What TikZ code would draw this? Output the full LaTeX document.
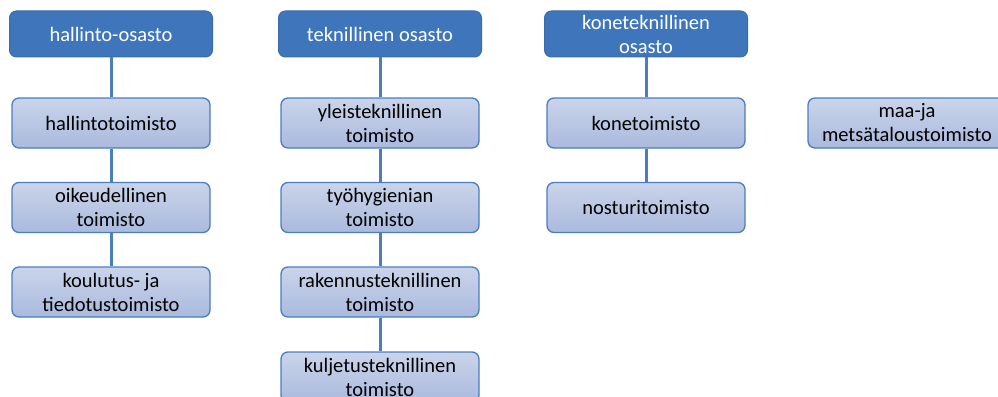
\documentclass[tikz,border=0pt]{standalone}
\usepackage{fontspec}
\setmainfont{Carlito}
\definecolor{deptfill}{HTML}{3F76BB}
\definecolor{deptline}{HTML}{3A6BAA}
\definecolor{officetop}{HTML}{CAD4EA}
\definecolor{officebot}{HTML}{AABADE}
\definecolor{linkblue}{HTML}{4A7EBE}
\begin{document}
\begin{tikzpicture}[x=1pt,y=-1pt,
  dept/.style={draw=deptline,line width=1pt,fill=deptfill,rounded corners=7pt,
    minimum width=203pt,minimum height=46pt,inner sep=0pt,text=white,align=center,
    font=\fontsize{20.5}{24}\selectfont},
  office/.style={draw=linkblue,line width=1.3pt,rounded corners=7pt,
    top color=officetop,bottom color=officebot,
    minimum width=198pt,minimum height=50pt,inner sep=0pt,text=black,align=center,
    font=\fontsize{20.5}{24}\selectfont},
  link/.style={draw=linkblue,line width=3pt}]
\useasboundingbox (0,0) rectangle (998,396);
\fill[white] (0,0) rectangle (998,396);

% departments
\node[dept] (d1) at (111,34) {hallinto-osasto};
\node[dept] (d2) at (380,34) {teknillinen osasto};
\node[dept] (d3) at (646,34) {koneteknillinen\\osasto};

% hallinto-osasto offices
\node[office] (a1) at (111,123) {hallintotoimisto};
\node[office] (a2) at (111,207.5) {oikeudellinen\\toimisto};
\node[office] (a3) at (111,292) {koulutus- ja\\tiedotustoimisto};

% teknillinen osasto offices
\node[office] (b1) at (380,123) {yleisteknillinen\\toimisto};
\node[office] (b2) at (380,207.5) {työhygienian\\toimisto};
\node[office] (b3) at (380,292) {rakennusteknillinen\\toimisto};
\node[office] (b4) at (380,377) {kuljetusteknillinen\\toimisto};

% koneteknillinen osasto offices
\node[office] (c1) at (646,123) {konetoimisto};
\node[office] (c2) at (646,207.5) {nosturitoimisto};

% separate office
\node[office] (e1) at (907,123) {maa-ja\\metsätaloustoimisto};

% connectors
\draw[link] (d1) -- (a1);
\draw[link] (a1) -- (a2);
\draw[link] (a2) -- (a3);
\draw[link] (d2) -- (b1);
\draw[link] (b1) -- (b2);
\draw[link] (b2) -- (b3);
\draw[link] (b3) -- (b4);
\draw[link] (d3) -- (c1);
\draw[link] (c1) -- (c2);
\end{tikzpicture}
\end{document}
